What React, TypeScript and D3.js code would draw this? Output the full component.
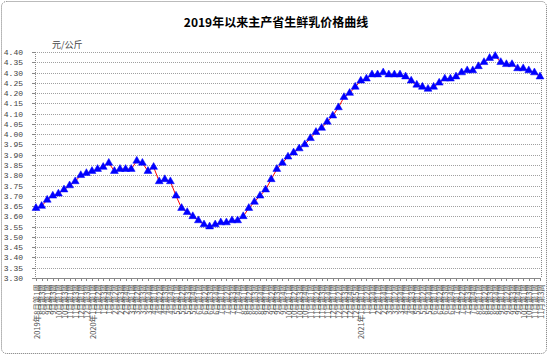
import React from "react";
import * as d3 from "d3";

const TITLE = "2019年以来主产省生鲜乳价格曲线";
const UNIT = "元/公斤";

const weekLabels2019 = [
  "2019年8月第1周", "8月第3周", "9月第1周", "9月第3周", "10月第1周", "10月第3周",
  "11月第1周", "11月第3周", "12月第1周", "12月第3周",
];
const weekLabels2020 = [
  "2020年1月第1周", "1月第2周", "1月第3周", "1月第4周",
  "2月第2周", "2月第3周", "2月第4周",
  "3月第1周", "3月第2周", "3月第3周", "3月第4周",
  "4月第1周", "4月第2周", "4月第3周", "4月第4周",
  "5月第1周", "5月第2周", "5月第3周", "5月第4周",
  "6月第1周", "6月第2周", "6月第3周", "6月第4周",
  "7月第1周", "7月第2周", "7月第3周", "7月第4周",
  "8月第1周", "8月第2周", "8月第3周", "8月第4周",
  "9月第1周", "9月第2周", "9月第3周", "9月第4周",
  "10月第1周", "10月第2周", "10月第3周", "10月第4周",
  "11月第1周", "11月第2周", "11月第3周", "11月第4周",
  "12月第1周", "12月第2周", "12月第3周", "12月第4周", "12月第5周",
];
const weekLabels2021 = [
  "2021年1月第1周", "1月第2周", "1月第4周",
  "2月第1周", "2月第4周",
  "3月第1周", "3月第2周", "3月第4周",
  "4月第1周", "4月第3周",
  "5月第1周", "5月第2周", "5月第4周",
  "6月第1周", "6月第2周", "6月第3周", "6月第4周",
  "7月第1周", "7月第2周", "7月第3周", "7月第4周",
  "8月第1周", "8月第2周", "8月第3周", "8月第4周",
  "9月第1周", "9月第2周", "9月第3周", "9月第4周",
  "10月第1周", "10月第3周",
  "11月第1周", "11月第3周",
];

const prices2019 = [3.64, 3.65, 3.68, 3.70, 3.71, 3.73, 3.75, 3.77, 3.80, 3.81];
const prices2020 = [
  3.82, 3.83, 3.84, 3.86, 3.82, 3.83, 3.83, 3.83, 3.87, 3.86, 3.82, 3.84,
  3.77, 3.78, 3.77, 3.70, 3.64, 3.62, 3.60, 3.58, 3.56, 3.55, 3.56, 3.57,
  3.57, 3.58, 3.58, 3.60, 3.64, 3.67, 3.70, 3.73, 3.78, 3.83, 3.86, 3.89,
  3.91, 3.93, 3.95, 3.98, 4.01, 4.03, 4.06, 4.09, 4.13, 4.18, 4.20, 4.23,
];
const prices2021 = [
  4.26, 4.27, 4.29, 4.29, 4.30, 4.29, 4.29, 4.29, 4.28, 4.26, 4.24, 4.23,
  4.22, 4.23, 4.25, 4.27, 4.27, 4.28, 4.30, 4.31, 4.31, 4.33, 4.35, 4.37,
  4.38, 4.35, 4.34, 4.34, 4.32, 4.32, 4.31, 4.30, 4.28,
];

const yTickLabels = [
  "3.30", "3.35", "3.40", "3.45", "3.50", "3.55", "3.60", "3.65", "3.70", "3.75", "3.80", "3.85",
  "3.90", "3.95", "4.00", "4.05", "4.10", "4.15", "4.20", "4.25", "4.30", "4.35", "4.40",
];

const categories = [...weekLabels2019, ...weekLabels2020, ...weekLabels2021];
const prices = [...prices2019, ...prices2020, ...prices2021];

const W = 549;
const H = 356;
const PL = 35;
const PR = 541;
const PT = 52;
const PB = 278;

export default function App() {
  const idx = categories.map((_, i) => String(i));
  const x = d3.scalePoint<string>().domain(idx).range([PL + 1, PR - 1]);
  const y = d3.scaleLinear().domain([3.3, 4.4]).range([PB, PT]);
  const line = d3
    .line<number>()
    .x((_, i) => x(String(i)) as number)
    .y((d) => y(d));
  const tri = d3.symbol().type(d3.symbolTriangle).size(27)() as string;
  const cjk = "'Noto Sans CJK SC', sans-serif";
  const mono = "'Liberation Mono', 'DejaVu Sans Mono', monospace";

  return (
    <svg
      width={W}
      height={H}
      viewBox={`0 0 ${W} ${H}`}
      style={{ position: "fixed", left: 0, top: 0, background: "#fff" }}
    >
      <rect
        x={1.5}
        y={1.5}
        width={W - 4}
        height={H - 4}
        rx={5}
        fill="#fff"
        stroke="#777"
        strokeWidth={1}
        strokeDasharray="1,1"
      />
      <text
        x={276}
        y={27}
        textAnchor="middle"
        fontFamily={cjk}
        fontWeight="bold"
        fontSize={12}
        fill="#000"
      >
        {TITLE}
      </text>
      <text x={52} y={48} fontFamily={cjk} fontSize={9} fill="#444">
        {UNIT}
      </text>
      {yTickLabels.map((t) => {
        const v = +t;
        const yy = Math.round(y(v)) + 0.5;
        return (
          <g key={t}>
            <line
              x1={PL}
              x2={PR}
              y1={yy}
              y2={yy}
              stroke="#a0a0a0"
              strokeWidth={1}
              strokeDasharray="1,1"
            />
            <line x1={PL - 3} x2={PL} y1={yy} y2={yy} stroke="#888" />
            <text
              x={PL - 12}
              y={yy}
              textAnchor="end"
              dominantBaseline="central"
              fontFamily={mono}
              fontSize={8}
              fill="#444"
            >
              {t}
            </text>
          </g>
        );
      })}
      <line x1={PL + 0.5} x2={PL + 0.5} y1={PT} y2={PB} stroke="#888" strokeDasharray="1,1" />
      <line x1={PR + 0.5} x2={PR + 0.5} y1={PT} y2={PB} stroke="#888" strokeDasharray="1,1" />
      <line x1={PL} x2={PR} y1={PB + 0.5} y2={PB + 0.5} stroke="#888" />
      {idx.map((k) => {
        const xx = Math.round(x(k) as number) + 0.5;
        return <line key={k} x1={xx} x2={xx} y1={PB} y2={PB + 3} stroke="#888" />;
      })}
      {categories.map((c, i) => {
        const xx = x(String(i)) as number;
        const yy = 284;
        return (
          <text
            key={i}
            x={xx}
            y={yy}
            transform={`rotate(-90, ${xx}, ${yy})`}
            textAnchor="end"
            dominantBaseline="central"
            fontFamily={cjk}
            fontSize={7.5}
            fill="#555"
          >
            {c}
          </text>
        );
      })}
      <path d={line(prices) as string} fill="none" stroke="#ff0000" strokeWidth={1} />
      {prices.map((p, i) => (
        <path
          key={i}
          d={tri}
          transform={`translate(${x(String(i))},${y(p)})`}
          fill="#0000ff"
          stroke="#0000ff"
          strokeWidth={0.5}
        />
      ))}
    </svg>
  );
}
